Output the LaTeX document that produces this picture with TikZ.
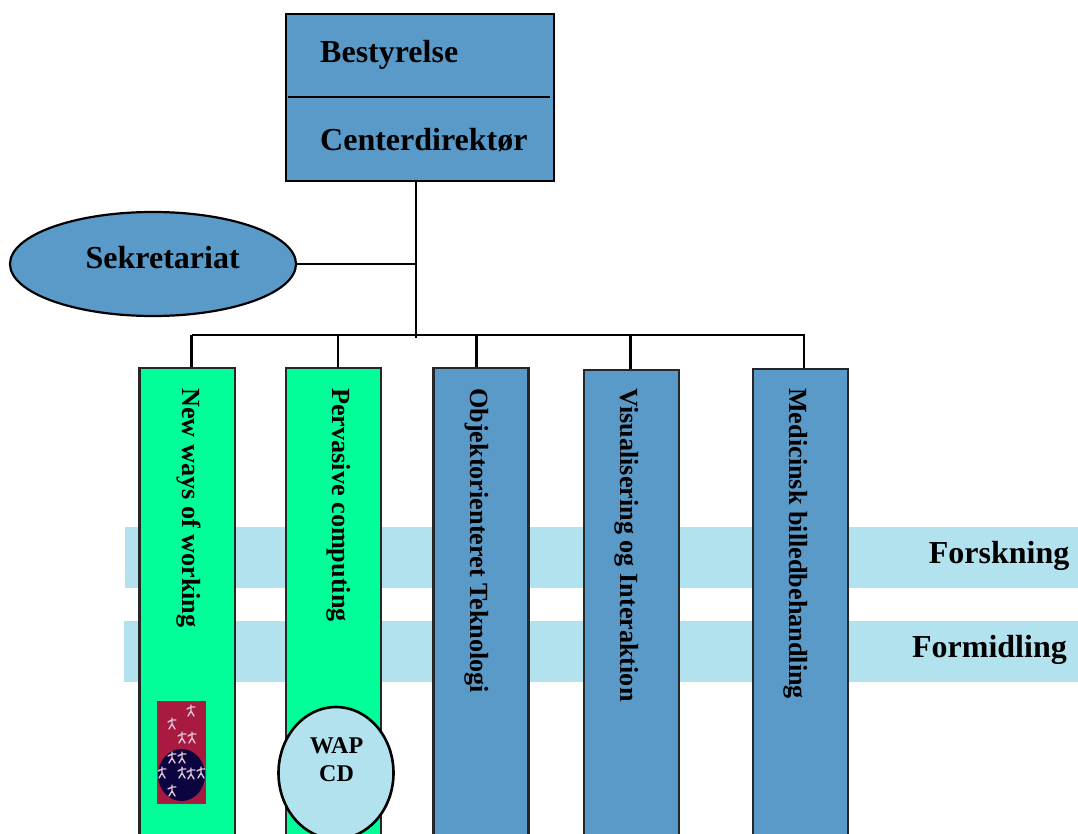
\documentclass[tikz,border=0pt]{standalone}
\usepackage{fontspec}
\setmainfont{Liberation Serif}
\usetikzlibrary{shapes.geometric}
\definecolor{boxblue}{HTML}{5A9AC8}
\definecolor{mint}{HTML}{00FF99}
\definecolor{bandblue}{HTML}{B3E2EF}
\definecolor{logored}{HTML}{A81A40}
\definecolor{logonavy}{HTML}{0C0440}
\definecolor{logofig}{HTML}{DCC4D4}
\tikzset{
  x=1pt,y=-1pt,
  wire/.style={draw=black,line width=2.2pt},
  bigtext/.style={font=\fontsize{32}{38}\selectfont\bfseries,text=black,inner sep=0pt},
  sidetext/.style={font=\fontsize{26.2}{30}\selectfont\bfseries,text=black,inner sep=0pt,rotate=-90,anchor=base west},
  column/.style={draw=black!85,line width=2.4pt,anchor=north west,minimum width=#1,minimum height=520pt,inner sep=0pt},
  band/.style={fill=bandblue,draw=none,anchor=north west,inner sep=0pt},
  figure/.pic={\draw[logofig,line width=1.4pt,line cap=round] (0,-5) -- (0,1) (-4,-1) -- (0,-3) -- (4,-3) (0,1) -- (-3,6) (0,1) -- (3,6);}
}
\begin{document}
\begin{tikzpicture}
\useasboundingbox (0,0) rectangle (1078,834);
\clip (0,0) rectangle (1078,834);
% bands
\node[band,minimum width=953pt,minimum height=60.5pt] (forskband) at (125,527) {};
\node[band,minimum width=954pt,minimum height=61pt] (formband) at (124,621) {};
\node[bigtext,anchor=base east] (forsk) at (1069.5,563) {Forskning};
\node[bigtext,anchor=base east] (form) at (1067,657) {Formidling};
% columns
\node[column=95.5pt,fill=mint] (c1) at (138.3,367) {};
\node[column=95pt,fill=mint] (c2) at (285,367) {};
\node[column=95pt,fill=boxblue] (c3) at (432.3,367) {};
\node[column=95pt,fill=boxblue] (c4) at (583,369) {};
\node[column=95pt,fill=boxblue] (c5) at (752,367.6) {};
\node[sidetext] (t1) at (182,388) {New ways of working};
\node[sidetext] (t2) at (332.5,388) {Pervasive computing};
\node[sidetext] (t3) at (470.5,388) {Objektorienteret Teknologi};
\node[sidetext] (t4) at (620.5,388) {Visualisering og Interaktion};
\node[sidetext] (t5) at (789,388) {Medicinsk billedbehandling};
% board
\node[draw=black,line width=2.4pt,fill=boxblue,anchor=north west,minimum width=268pt,minimum height=167pt,inner sep=0pt] (board) at (285,12.6) {};
\coordinate (divl) at (288,97);
\coordinate (divr) at (550,97);
\draw[wire] (divl) -- (divr);
\node[bigtext,anchor=base west] (best) at (320,63) {Bestyrelse};
\node[bigtext,anchor=base west] (dir) at (320,151) {Centerdirektør};
% secretariat
\node[ellipse,draw=black,line width=2.2pt,fill=boxblue,minimum width=286pt,minimum height=104pt,inner sep=0pt] (sek) at (153,264) {};
\node[bigtext,anchor=base west] (sekt) at (85.5,269) {Sekretariat};
% connectors
\coordinate (trunktop) at (416,180);
\coordinate (trunkmid) at (416,264);
\coordinate (trunkend) at (416,338);
\coordinate (busl) at (192,335);
\coordinate (busr) at (805,335);
\coordinate (d1) at (191.5,335);
\coordinate (d2) at (338,335);
\coordinate (d3) at (476.5,335);
\coordinate (d4) at (630.5,335);
\coordinate (d5) at (804,335);
\draw[wire] (trunktop) -- (trunkend);
\draw[wire] (sek.east) -- (trunkmid);
\draw[wire] (busl) -- (busr);
\foreach \i in {1,...,5}{\draw[wire] (d\i) -- (d\i |- c\i.north);}
% logo
\fill[logored] (157,701) rectangle (206,804);
\fill[logonavy] (181.5,775) ellipse [x radius=23.5,y radius=26];
\foreach \p in {(191,710),(172,723),(182,737),(192,737),(172,757),(182,757),(162,772),(182,772),(191,773),(201,772),(172,790)}{\pic at \p {figure};}
% WAP
\node[ellipse,draw=black,line width=2.6pt,fill=bandblue,minimum width=115pt,minimum height=132pt,inner sep=0pt] (wap) at (336,773) {};
\node[font=\fontsize{24}{27.5}\selectfont\bfseries,align=center,inner sep=0pt,anchor=north] (waptext) at (336.5,737.5) {WAP\\CD};
\end{tikzpicture}
\end{document}
